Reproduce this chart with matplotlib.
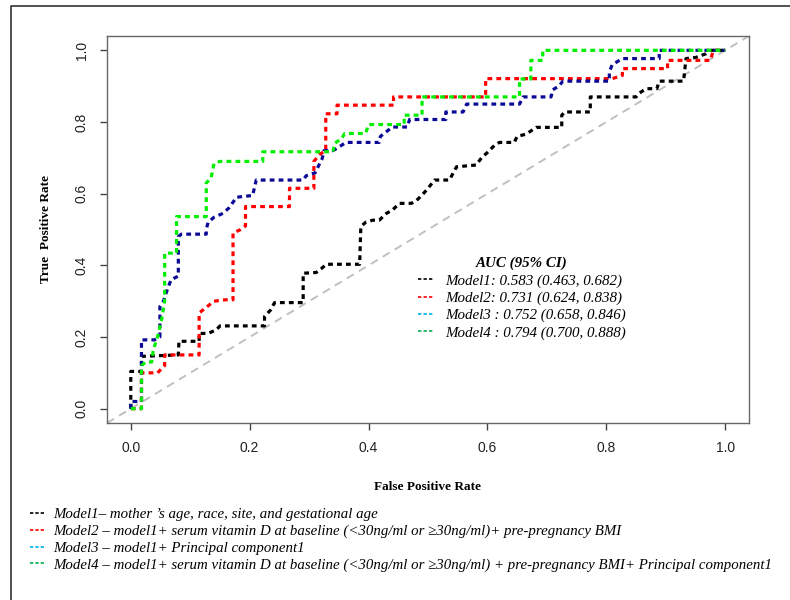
import matplotlib
matplotlib.use("Agg")
import matplotlib.pyplot as plt
from matplotlib.lines import Line2D

# ROC step vertices
m1_fpr = [0, 0, 0.018, 0.018, 0.08, 0.081, 0.115, 0.115, 0.13, 0.144, 0.15, 0.225, 0.225, 0.235, 0.242,
          0.29, 0.29, 0.312, 0.32, 0.329, 0.385, 0.387, 0.395, 0.407, 0.418, 0.43, 0.44, 0.452, 0.472,
          0.48, 0.49, 0.50, 0.511, 0.536, 0.548, 0.581, 0.59, 0.60, 0.612, 0.62, 0.645, 0.65, 0.665,
          0.682, 0.725, 0.725, 0.73, 0.773, 0.773, 0.85, 0.855, 0.867, 0.885, 0.889, 0.93, 0.934,
          0.95, 0.967, 0.975, 1.0]
m1_tpr = [0, 0.104, 0.104, 0.146, 0.15, 0.188, 0.188, 0.21, 0.21, 0.22, 0.231, 0.231, 0.257, 0.275, 0.296,
          0.296, 0.378, 0.38, 0.39, 0.403, 0.403, 0.508, 0.52, 0.526, 0.526, 0.545, 0.554, 0.573, 0.573,
          0.58, 0.596, 0.615, 0.638, 0.638, 0.675, 0.68, 0.70, 0.715, 0.735, 0.743, 0.743, 0.76, 0.766,
          0.785, 0.785, 0.819, 0.828, 0.828, 0.87, 0.87, 0.88, 0.893, 0.893, 0.914, 0.914, 0.977,
          0.98, 0.99, 1.0, 1.0]

m2_fpr = [0, 0.018, 0.018, 0.045, 0.057, 0.057, 0.115, 0.115, 0.125, 0.14, 0.16, 0.172, 0.172, 0.185,
          0.193, 0.193, 0.267, 0.267, 0.308, 0.308, 0.318, 0.328, 0.328, 0.347, 0.347, 0.442, 0.442,
          0.597, 0.597, 0.81, 0.827, 0.827, 0.903, 0.903, 0.975, 0.98, 1.0]
m2_tpr = [0, 0, 0.10, 0.10, 0.12, 0.15, 0.15, 0.267, 0.28, 0.30, 0.304, 0.304, 0.49, 0.50,
          0.51, 0.564, 0.564, 0.615, 0.615, 0.69, 0.71, 0.72, 0.823, 0.823, 0.847, 0.847, 0.87,
          0.87, 0.921, 0.921, 0.93, 0.949, 0.949, 0.972, 0.972, 1.0, 1.0]

m3_fpr = [0, 0, 0.018, 0.018, 0.04, 0.049, 0.049, 0.055, 0.063, 0.068, 0.08, 0.08, 0.085, 0.127, 0.127,
          0.13, 0.14, 0.155, 0.165, 0.178, 0.205, 0.211, 0.29, 0.295, 0.31, 0.322, 0.325, 0.34, 0.35,
          0.362, 0.418, 0.42, 0.44, 0.465, 0.469, 0.53, 0.53, 0.559, 0.565, 0.654, 0.66, 0.707, 0.71,
          0.72, 0.727, 0.805, 0.805, 0.81, 0.827, 0.889, 0.889, 1.0]
m3_tpr = [0, 0.02, 0.02, 0.192, 0.192, 0.20, 0.285, 0.30, 0.34, 0.36, 0.37, 0.48, 0.487, 0.487, 0.50,
          0.52, 0.534, 0.545, 0.56, 0.59, 0.595, 0.638, 0.638, 0.65, 0.658, 0.698, 0.72, 0.72, 0.73,
          0.743, 0.743, 0.76, 0.786, 0.786, 0.807, 0.807, 0.828, 0.828, 0.85, 0.85, 0.87, 0.87, 0.89,
          0.90, 0.914, 0.914, 0.94, 0.96, 0.977, 0.977, 1.0, 1.0]

m4_fpr = [0, 0.018, 0.018, 0.025, 0.035, 0.038, 0.045, 0.052, 0.057, 0.057, 0.077, 0.077, 0.127, 0.127,
          0.135, 0.14, 0.15, 0.222, 0.222, 0.34, 0.343, 0.355, 0.36, 0.395, 0.40, 0.46, 0.46, 0.49,
          0.49, 0.654, 0.654, 0.673, 0.673, 0.693, 0.693, 1.0]
m4_tpr = [0, 0, 0.12, 0.13, 0.13, 0.165, 0.20, 0.25, 0.30, 0.434, 0.434, 0.536, 0.536, 0.63,
          0.643, 0.684, 0.69, 0.69, 0.717, 0.717, 0.74, 0.755, 0.768, 0.768, 0.793, 0.793, 0.819, 0.819,
          0.87, 0.87, 0.92, 0.92, 0.972, 0.972, 1.0, 1.0]

auc_labels = ["Model1: 0.583 (0.463, 0.682)",
              "Model2: 0.731 (0.624, 0.838)",
              "Model3 : 0.752 (0.658, 0.846)",
              "Model4 : 0.794 (0.700, 0.888)"]
model_desc = ["Model1\u2013 mother \u2019s age, race, site, and gestational age",
              "Model2 \u2013 model1+ serum vitamin D at baseline (<30ng/ml or \u226530ng/ml)+ pre-pregnancy BMI",
              "Model3 \u2013 model1+ Principal component1",
              "Model4 \u2013 model1+ serum vitamin D at baseline (<30ng/ml or \u226530ng/ml) + pre-pregnancy BMI+ Principal component1"]
ticks = [0.0, 0.2, 0.4, 0.6, 0.8, 1.0]

curve_colors = ["black", "#ff0000", "#0a0a96", "#00ee00"]
key_colors = ["black", "#ff0000", "#00b0f0", "#00b050"]

SERIF = "Liberation Serif"
SANS = "Liberation Sans"

W, H = 790, 600
fig = plt.figure(figsize=(W / 100, H / 100), dpi=100)
ax = fig.add_axes([107 / W, 1 - 423 / H, 642 / W, 387 / H])

ax.axline((0, 0), (1, 1), color="#c0c0c0", lw=1.4, linestyle=(0, (4.2, 3.0)), zorder=1)
curves = [(m1_fpr, m1_tpr), (m2_fpr, m2_tpr), (m3_fpr, m3_tpr), (m4_fpr, m4_tpr)]
for (fx, ty), c in zip(curves, curve_colors):
    ax.plot(fx, ty, color=c, lw=2.3, linestyle=(0, (1.5, 1.3)), zorder=2)

ax.set_xlim(-0.04, 1.04)
ax.set_ylim(-0.04, 1.04)
ax.set_xticks(ticks)
ax.set_yticks(ticks)
ax.set_xticklabels([f"{t:.1f}" for t in ticks], fontfamily=SANS, fontsize=10)
ax.set_yticklabels([f"{t:.1f}" for t in ticks], fontfamily=SANS, fontsize=10,
                   rotation=90, va="center")
ax.tick_params(length=5, width=1, color="#444444", pad=8, labelcolor="#222222")
for s in ax.spines.values():
    s.set_color("#666666")
    s.set_linewidth(1)

fig.text(428 / W, 1 - 487 / H, "False Positive Rate", fontfamily=SERIF, fontweight="bold",
         fontsize=9.5, ha="center", va="center")
fig.text(46 / W, 1 - 229 / H, "True  Positive Rate", fontfamily=SERIF, fontweight="bold",
         fontsize=9.5, ha="center", va="center", rotation=90)

# AUC legend inside the axes
auc_handles = [Line2D([], [], color=c, lw=1.2, linestyle=(0, (2.0, 1.3))) for c in key_colors]
fig.legend(auc_handles, auc_labels, loc="upper left", bbox_to_anchor=(418 / W, 1 - 257 / H),
           frameon=False, borderpad=0, borderaxespad=0, handlelength=1.05,
           handletextpad=0.75, labelspacing=0.24, title="AUC (95% CI)",
           prop={"family": SERIF, "style": "italic", "size": 10.8},
           title_fontproperties={"family": SERIF, "style": "italic", "weight": "bold", "size": 10.8})

# model description key under the plot
desc_handles = [Line2D([], [], color=c, lw=1.2, linestyle=(0, (2.0, 1.2))) for c in key_colors]
fig.legend(desc_handles, model_desc, loc="upper left", bbox_to_anchor=(30 / W, 1 - 508 / H),
           frameon=False, borderpad=0, borderaxespad=0, handlelength=1.1,
           handletextpad=0.45, labelspacing=0.22,
           prop={"family": SERIF, "style": "italic", "size": 10.7})

# outer frame (left and top edges only)
fig.add_artist(Line2D([11 / W, 11 / W, 1.0], [0.0, 1 - 6 / H, 1 - 6 / H],
                      transform=fig.transFigure, color="#222222", lw=1.1))

fig.savefig("out.png", dpi=100)
